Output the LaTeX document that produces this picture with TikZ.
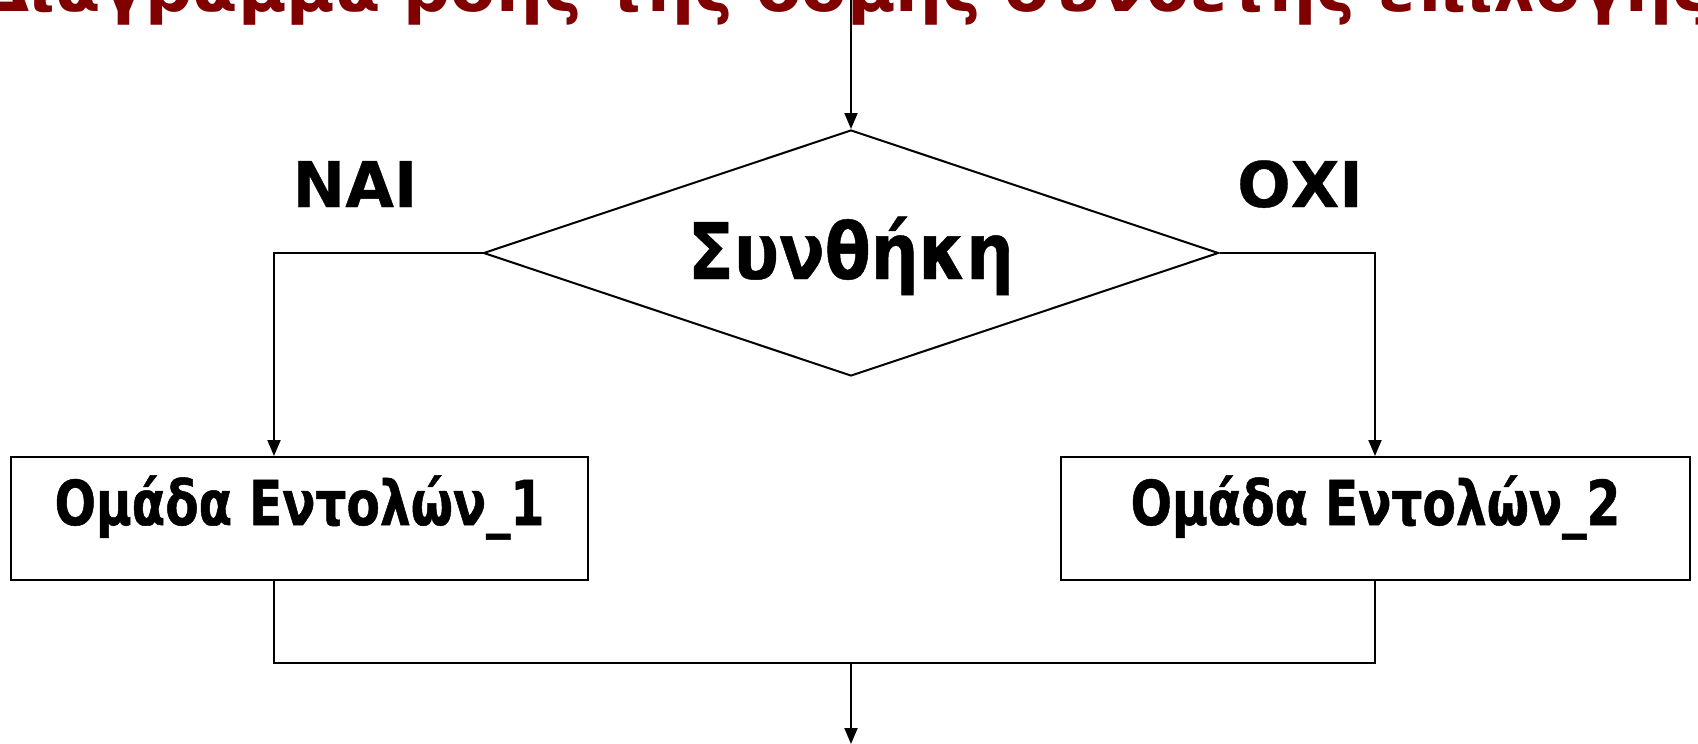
\documentclass[tikz,border=0pt]{standalone}
\usepackage{fontspec}
\setmainfont{DejaVu Sans}
\newfontfamily\condfont[FakeStretch=0.86,FakeBold=0.6]{DejaVu Sans}
\newfontfamily\blockfont[FakeStretch=0.785,FakeBold=0.8]{DejaVu Sans}
\newfontfamily\branchfont[FakeBold=0.5]{DejaVu Sans}
\usetikzlibrary{arrows.meta,shapes.geometric}
\definecolor{titlered}{RGB}{128,0,0}
\tikzset{
  flow/.style={line width=2pt, draw=black},
  arr/.style={flow, -{Triangle[width=13pt,length=16pt]}},
  decision/.style={shape=diamond, draw, line width=2pt, inner sep=0pt,
    minimum width=735pt, minimum height=246pt},
  condtext/.style={font=\condfont\bfseries\fontsize{78}{80}\selectfont, anchor=base},
  block/.style={rectangle, draw, line width=2pt, inner sep=0pt,
    minimum height=123pt,
    font=\blockfont\bfseries\fontsize{62}{64}\selectfont,
    text height=45pt, text depth=32pt},
  branch/.style={font=\branchfont\bfseries\fontsize{63}{65}\selectfont, anchor=base},
  heading/.style={font=\bfseries\fontsize{66}{68}\selectfont, text=titlered, anchor=base, inner sep=0pt}
}
\begin{document}
\begin{tikzpicture}[x=1pt,y=-1pt]
\useasboundingbox (0,0) rectangle (1698,744);
\clip (0,0) rectangle (1698,744);

% heading, running past both page edges
\node[heading] (title) at (845,11) {Διάγραμμα ροής της δομής σύνθετης επιλογής};

% decision
\node[decision] (cond) at (851,253) {};
\node[condtext] (condlbl) at (851,279) {Συνθήκη};

% branch labels
\node[branch] (yes) at (355,207) {ΝΑΙ};
\node[branch] (no) at (1300,207) {ΟΧΙ};

% statement blocks
\node[block, minimum width=577pt] (lbox) at (299.5,518.5) {Ομάδα Εντολών\_1};
\node[block, minimum width=629pt] (rbox) at (1375.5,518.5) {Ομάδα Εντολών\_2};

% connector points
\coordinate (entry) at (851,0);
\coordinate (lturn) at (274,253);
\coordinate (rturn) at (1375,253);
\coordinate (ljoin) at (274,663);
\coordinate (rjoin) at (1375,663);
\coordinate (merge) at (851,663);
\coordinate (exit) at (851,744);

% connectors
\draw[arr] (entry) -- (cond.north);
\draw[arr] (cond.west) -- (lturn) -- (lturn |- lbox.north);
\draw[arr] (cond.east) -- (rturn) -- (rturn |- rbox.north);
\draw[flow] (lturn |- lbox.south) -- (ljoin) -- (rjoin) -- (rturn |- rbox.south);
\draw[arr] (merge) -- (exit);
\end{tikzpicture}
\end{document}
